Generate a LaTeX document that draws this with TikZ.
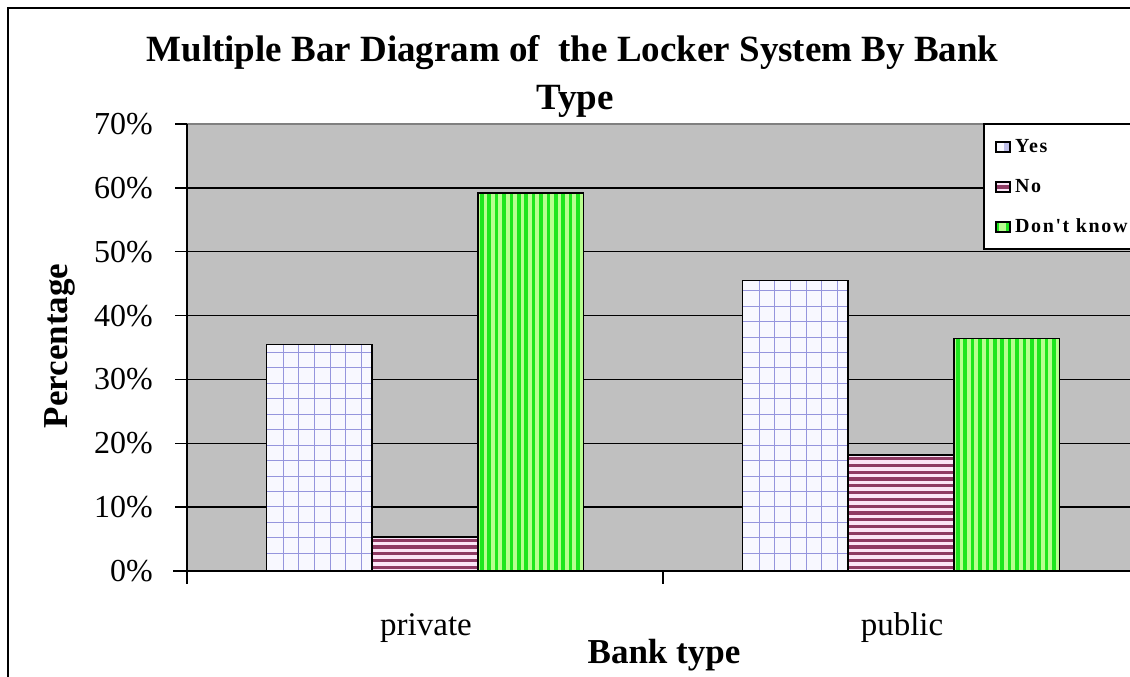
\documentclass[tikz,border=0pt]{standalone}
\usepackage{fontspec}
\setmainfont{Liberation Serif}
\newfontfamily\legfont[LetterSpace=8]{Liberation Serif}
\usetikzlibrary{calc}

\definecolor{plotgrey}{HTML}{C0C0C0}
\definecolor{edgegrey}{HTML}{808080}
\definecolor{gridblue}{HTML}{9595DD}
\definecolor{yesfill}{HTML}{F8F8FF}
\definecolor{nodark}{HTML}{8E3A63}
\definecolor{nolight}{HTML}{FBE4F6}
\definecolor{dkgreen}{HTML}{1EE61E}
\definecolor{dklight}{HTML}{B8FF90}

\tikzset{
  gridline/.style={line width=1.4pt},
  barframe/.style={draw=black,line width=1.5pt},
  ticklabel/.style={font=\fontsize{32}{38}\selectfont,anchor=east,inner sep=0pt},
  catlabel/.style={font=\fontsize{33}{40}\selectfont,anchor=base,inner sep=0pt},
  axislabel/.style={font=\fontsize{35}{42}\selectfont\bfseries,anchor=base,inner sep=0pt},
  titlelabel/.style={font=\fontsize{37}{44}\selectfont\bfseries,anchor=base,inner sep=0pt},
  legtext/.style={font=\legfont\fontsize{20}{24}\selectfont\bfseries,anchor=base west,inner sep=0pt},
  swatch/.style={draw=black,line width=1.2pt},
}

\begin{document}
\begin{tikzpicture}[x=1pt,y=-1pt]
\clip (0,0) rectangle (1130,677);
\fill[white] (0,0) rectangle (1130,677);
% chart frame
\draw[line width=2pt] (8,700) -- (8,8) -- (1200,8);
% titles
\node[titlelabel] (title1) at (572.5,62) {Multiple Bar Diagram of \ the Locker System By Bank};
\node[titlelabel] (title2) at (575,110) {Type};
% plot area
\fill[plotgrey] (187,124) rectangle (1200,571);
\draw[edgegrey,line width=2pt] (187,124) -- (1200,124);
\foreach \p in {1,...,6}
  \draw[gridline] (175,{571-\p*63.857}) -- (1200,{571-\p*63.857});
\draw[gridline] (175,124) -- (187,124);
\node[ticklabel] (tick0) at (153,571) {0\%};
\foreach \p in {1,...,7}
  \node[ticklabel] (tick\p) at (153,{571-\p*63.857}) {\p0\%};
% Yes bars
\foreach \x/\v in {266.3/35.5,742.3/45.5} {
  \pgfmathsetmacro{\bartop}{571-\v*6.3857}
  \begin{scope}
    \clip (\x,571) rectangle (\x+105.8,\bartop);
    \fill[yesfill] (\x,571) rectangle (\x+105.8,\bartop);
    \foreach \k in {0,...,6}
      \draw[gridblue,line width=1pt] ({\x+17+\k*15.6},571) -- ++(0,-400);
    \foreach \k in {0,...,29}
      \draw[gridblue,line width=1pt] (\x,{553.3-\k*15.45}) -- ++(110,0);
  \end{scope}
  \draw[barframe] (\x,571) rectangle (\x+105.8,\bartop);
}
% No bars
\foreach \x/\v in {372.1/5.3,848.1/18.2} {
  \pgfmathsetmacro{\bartop}{571-\v*6.3857}
  \begin{scope}
    \clip (\x,571) rectangle (\x+105.8,\bartop);
    \fill[nolight] (\x,571) rectangle (\x+105.8,\bartop);
    \foreach \k in {0,...,20}
      \fill[nodark] (\x,{569-\k*6.8}) rectangle ++(106,-3.2);
  \end{scope}
  \draw[barframe] (\x,571) rectangle (\x+105.8,\bartop);
}
% Don't know bars
\foreach \x/\v in {477.9/59.2,953.9/36.4} {
  \pgfmathsetmacro{\bartop}{571-\v*6.3857}
  \begin{scope}
    \clip (\x,571) rectangle (\x+105.8,\bartop);
    \fill[dklight] (\x,571) rectangle (\x+105.8,\bartop);
    \foreach \k in {0,...,14}
      \fill[dkgreen] ({\x+2+\k*7.4},571) rectangle ++(3.6,-400);
  \end{scope}
  \draw[barframe] (\x,571) rectangle (\x+105.8,\bartop);
}
% axes
\draw[line width=1.5pt] (187,124) -- (187,571);
\draw[line width=1.5pt] (173,571) -- (1200,571);
\foreach \t in {187,663}
  \draw[line width=1.5pt] (\t,571) -- (\t,584);
\node[catlabel] (private) at (426,635) {private};
\node[catlabel] (public) at (902,635) {public};
\node[axislabel] (xlab) at (664,663) {Bank type};
\node[axislabel,rotate=90] (ylab) at (67,346) {Percentage};
% legend
\draw[fill=white,line width=1.5pt] (984,124) rectangle (1200,249);
\fill[yesfill] (996,142) rectangle (1010,152);
\fill[gridblue!60] (1004,142) rectangle (1010,152);
\draw[swatch] (996,142) rectangle (1010,152);
\fill[nolight] (996,182) rectangle (1010,192);
\fill[nodark] (996,185) rectangle (1010,189);
\draw[swatch] (996,182) rectangle (1010,192);
\fill[dkgreen] (996,222) rectangle (1010,232);
\fill[dklight] (999,222) rectangle (1006,232);
\draw[swatch] (996,222) rectangle (1010,232);
\node[legtext] (legyes) at (1015,152) {Yes};
\node[legtext] (legno) at (1015,192) {No};
\node[legtext] (legdk) at (1015,232) {Don't know};
\end{tikzpicture}
\end{document}
